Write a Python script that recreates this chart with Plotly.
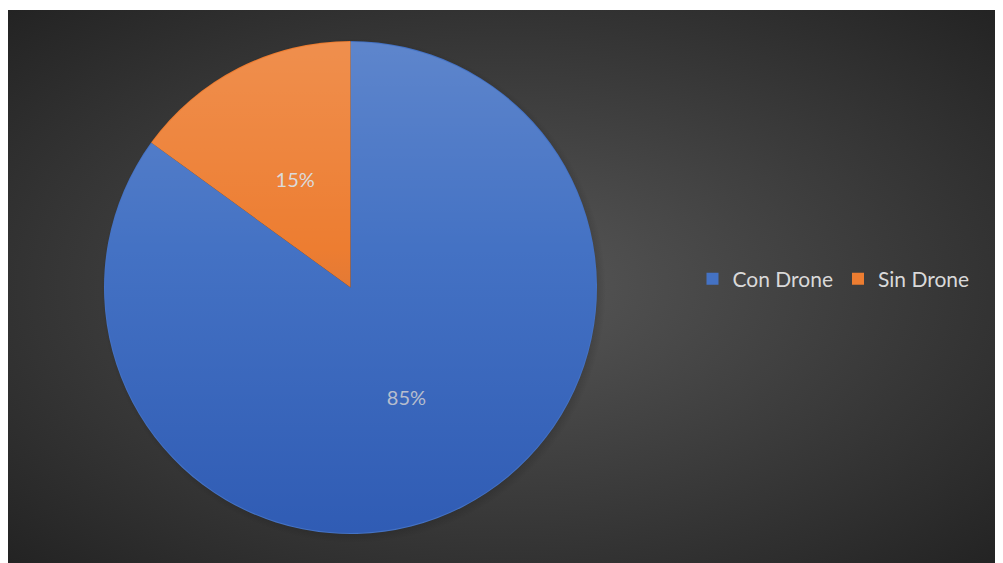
import base64
import plotly.graph_objects as go

labels = ["Con Drone", "Sin Drone"]
values = [85, 15]
colors = ["#4472C4", "#ED7D31"]

# the page puts the figure 8px in from the window's top-left corner
W, H = 995, 555
# dark chart area
bx0, by0, bx1, by1 = 0, 2, 993, 555
# pie placement
cx, cy, r = 342.5, 279.5, 246.5
# smaller, transparent copy that only carries the small slice's label
r_lab = 177

bg_svg = f"""<svg xmlns='http://www.w3.org/2000/svg' width='{bx1-bx0}' height='{by1-by0}' viewBox='0 0 {bx1-bx0} {by1-by0}' preserveAspectRatio='none'>
<defs><radialGradient id='g' cx='0.5' cy='0.5' r='0.72'>
<stop offset='0' stop-color='#575757'/><stop offset='1' stop-color='#222222'/></radialGradient>
<radialGradient id='s' cx='0.5' cy='0.5' r='0.5'>
<stop offset='0.9' stop-color='#000' stop-opacity='0.35'/><stop offset='1' stop-color='#000' stop-opacity='0'/></radialGradient></defs>
<rect width='100%' height='100%' fill='url(#g)'/>
<circle cx='{cx-bx0+3}' cy='{cy-by0+3}' r='{r+6}' fill='url(#s)'/>
</svg>"""

ov_svg = """<svg xmlns='http://www.w3.org/2000/svg' width='500' height='500' viewBox='0 0 500 500'>
<defs><linearGradient id='l' x1='0' y1='0' x2='0' y2='1'>
<stop offset='0' stop-color='#fff' stop-opacity='0.14'/>
<stop offset='0.42' stop-color='#fff' stop-opacity='0'/>
<stop offset='0.42' stop-color='#00288f' stop-opacity='0'/>
<stop offset='1' stop-color='#00288f' stop-opacity='0.3'/></linearGradient></defs>
<circle cx='250' cy='250' r='249' fill='url(#l)'/>
</svg>"""


def uri(s):
    return "data:image/svg+xml;base64," + base64.b64encode(s.encode()).decode()


def dom(rad):
    return dict(x=[(cx - rad) / W, (cx + rad) / W], y=[1 - (cy + rad) / H, 1 - (cy - rad) / H])


tfont = dict(family="Lato", size=20, color="#D9D9D9")

fig = go.Figure()
fig.add_trace(
    go.Pie(
        labels=labels,
        values=values,
        sort=False,
        direction="clockwise",
        rotation=0,
        marker=dict(colors=colors, line=dict(width=0)),
        texttemplate=["%{percent:.0%}", ""],
        textposition="inside",
        insidetextorientation="horizontal",
        textfont=tfont,
        hoverinfo="label+percent",
        domain=dom(r),
    )
)
fig.add_trace(
    go.Pie(
        labels=labels,
        values=values,
        sort=False,
        direction="clockwise",
        rotation=0,
        marker=dict(colors=["rgba(0,0,0,0)", "rgba(0,0,0,0)"], line=dict(width=0)),
        texttemplate=["", "%{percent:.0%}"],
        textposition="inside",
        insidetextorientation="horizontal",
        textfont=tfont,
        hoverinfo="skip",
        showlegend=False,
        domain=dom(r_lab),
    )
)

fig.update_layout(
    width=W,
    height=H,
    margin=dict(l=0, r=0, t=0, b=0),
    paper_bgcolor="white",
    plot_bgcolor="white",
    showlegend=True,
    legend=dict(
        orientation="h",
        x=684.5 / W,
        xanchor="left",
        y=1 - 271 / H,
        yanchor="middle",
        font=dict(family="Lato", size=21, color="#D9D9D9"),
        bgcolor="rgba(0,0,0,0)",
        itemwidth=30,
        traceorder="normal",
    ),
    images=[
        dict(
            source=uri(bg_svg),
            xref="paper", yref="paper",
            x=bx0 / W, y=1 - by0 / H,
            sizex=(bx1 - bx0) / W, sizey=(by1 - by0) / H,
            xanchor="left", yanchor="top",
            sizing="stretch", layer="below",
        ),
        dict(
            source=uri(ov_svg),
            xref="paper", yref="paper",
            x=(cx - r) / W, y=1 - (cy - r) / H,
            sizex=2 * r / W, sizey=2 * r / H,
            xanchor="left", yanchor="top",
            sizing="stretch", layer="above",
        ),
    ],
)

fig.write_html("out.html")
